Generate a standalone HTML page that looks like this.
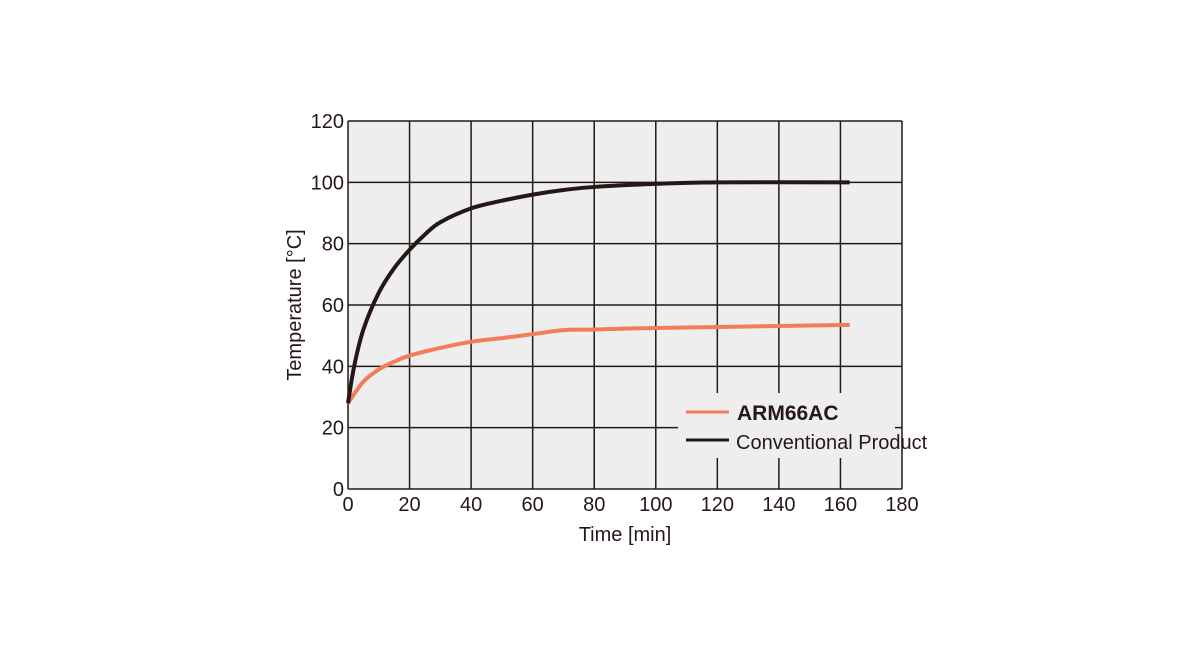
<!DOCTYPE html>
<html><head><meta charset="utf-8"><style>
body{margin:0;background:#fff;}
svg text{font-family:"Liberation Sans Narrow","Liberation Sans",sans-serif;fill:#231815;}
</style></head><body>
<svg width="1184" height="666" viewBox="0 0 1184 666">
<rect x="348" y="121" width="554" height="368" fill="#eeeeee"/>
<g id="grid"></g>
<g id="series"></g>
<rect x="678" y="393" width="217" height="65" fill="#eeeeee"/>
<line x1="686" y1="412" x2="729" y2="412" stroke="#f47c5a" stroke-width="3"/>
<text x="737" y="420" font-size="21" font-weight="bold" font-family="Liberation Sans">ARM66AC</text>
<line x1="686" y1="440" x2="729" y2="440" stroke="#231815" stroke-width="3"/>
<text x="736" y="449" font-size="20">Conventional Product</text>
<text x="625" y="541" font-size="20" text-anchor="middle">Time [min]</text>
<text transform="translate(301,305) rotate(-90)" font-size="20" text-anchor="middle">Temperature [°C]</text>
</svg>
<script>
const xTicks=[0,20,40,60,80,100,120,140,160,180];
const yTicks=[0,20,40,60,80,100,120];
const timeConv=[0,2,5,10,15,20,25,30,40,50,60,70,80,100,120,163];
const tempConv=[28,40,52,64,72,78,83,87,91.5,94,96,97.5,98.5,99.5,100,100];
const timeArm=[0,5,10,15,20,30,40,50,60,70,80,100,163];
const tempArm=[28,35,39,41.5,43.5,46,48,49.2,50.5,51.8,52,52.5,53.5];
const X0=348,X1=902,Y0=489,Y1=121;
const sx=v=>X0+(v-0)/(180-0)*(X1-X0);
const sy=v=>Y0-(v-0)/(120-0)*(Y0-Y1);
const NS="http://www.w3.org/2000/svg";
const grid=document.getElementById('grid');
xTicks.forEach(t=>{
 const l=document.createElementNS(NS,'line');
 l.setAttribute('x1',sx(t));l.setAttribute('x2',sx(t));l.setAttribute('y1',Y1);l.setAttribute('y2',Y0);
 l.setAttribute('stroke','#231815');l.setAttribute('stroke-width','1.5');
 
 
 grid.appendChild(l);
 const tx=document.createElementNS(NS,'text');
 tx.setAttribute('x',sx(t));tx.setAttribute('y',Y0+22);tx.setAttribute('font-size','20');tx.setAttribute('text-anchor','middle');
 tx.textContent=t;
 
 
 grid.appendChild(tx);
});
yTicks.forEach(t=>{
 const l=document.createElementNS(NS,'line');
 l.setAttribute('x1',X0);l.setAttribute('x2',X1);l.setAttribute('y1',sy(t));l.setAttribute('y2',sy(t));
 l.setAttribute('stroke','#231815');l.setAttribute('stroke-width','1.5');
 
 
 grid.appendChild(l);
 const tx=document.createElementNS(NS,'text');
 tx.setAttribute('x',X0-4);tx.setAttribute('y',sy(t)+7);tx.setAttribute('font-size','20');tx.setAttribute('text-anchor','end');
 tx.textContent=t;
 
 
 grid.appendChild(tx);
});
function smooth(xs,ys){
 const p=xs.map((x,i)=>[sx(x),sy(ys[i])]);
 let d='M'+p[0][0]+','+p[0][1];
 for(let i=0;i<p.length-1;i++){
  const p0=p[Math.max(i-1,0)],p1=p[i],p2=p[i+1],p3=p[Math.min(i+2,p.length-1)];
  const c1=[p1[0]+(p2[0]-p0[0])/6,p1[1]+(p2[1]-p0[1])/6];
  const c2=[p2[0]-(p3[0]-p1[0])/6,p2[1]-(p3[1]-p1[1])/6];
  d+='C'+c1[0]+','+c1[1]+' '+c2[0]+','+c2[1]+' '+p2[0]+','+p2[1];
 }
 return d;
}
const ser=document.getElementById('series');
const pa=document.createElementNS(NS,'path');
pa.setAttribute('d',smooth(timeArm,tempArm));pa.setAttribute('fill','none');pa.setAttribute('stroke','#f47c5a');pa.setAttribute('stroke-width','4');


ser.appendChild(pa);
const pc=document.createElementNS(NS,'path');
pc.setAttribute('d',smooth(timeConv,tempConv));pc.setAttribute('fill','none');pc.setAttribute('stroke','#231815');pc.setAttribute('stroke-width','4');


ser.appendChild(pc);
</script>
</body></html>
